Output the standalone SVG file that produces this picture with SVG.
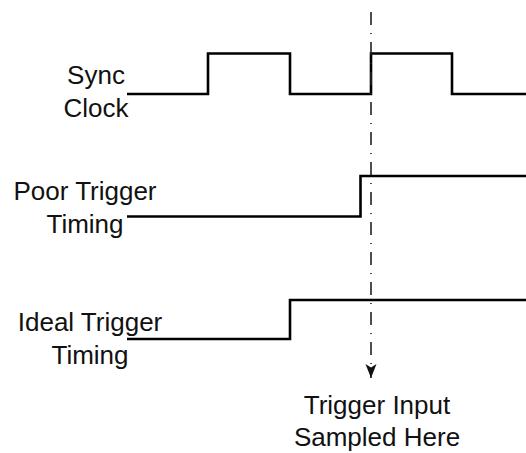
<svg xmlns="http://www.w3.org/2000/svg" width="526" height="453" viewBox="0 0 526 453">
<defs>
<style>
.sig{fill:none;stroke:#000;stroke-width:2.6;stroke-linejoin:miter;stroke-linecap:butt}
.lbl{font-family:"Liberation Sans",Arial,sans-serif;font-size:26px;fill:#111;text-anchor:middle}
.dd{fill:none;stroke:#222;stroke-width:1.6;stroke-dasharray:13 8 1 8}
</style>
<marker id="arr" viewBox="-1 -7 16 14" markerWidth="16" markerHeight="14" refX="14" refY="0" orient="auto" markerUnits="userSpaceOnUse">
<path d="M0,-5.5 L14,0 L0,5.5 L3.5,0 Z" fill="#111"/>
</marker>
</defs>
<rect width="526" height="453" fill="#fff"/>
<g id="sync-clock">
<text class="lbl" x="96" y="84">Sync</text>
<text class="lbl" x="96" y="117">Clock</text>
<path class="sig" d="M127,94 H208 V53.5 H290 V94 H371 V53.5 H452 V94 H526"/>
</g>
<g id="poor-trigger">
<text class="lbl" x="85" y="200">Poor Trigger</text>
<text class="lbl" x="85" y="233">Timing</text>
<path class="sig" d="M127,216.5 H360.5 V176 H526"/>
</g>
<g id="ideal-trigger">
<text class="lbl" x="90" y="331">Ideal Trigger</text>
<text class="lbl" x="90" y="364">Timing</text>
<path class="sig" d="M127,339 H290 V300 H526"/>
</g>
<g id="sample-label">
<text class="lbl" x="377" y="414">Trigger Input</text>
<text class="lbl" x="377" y="446">Sampled Here</text>
</g>
<g id="connectors">
<line class="dd" x1="371" y1="12" x2="371" y2="378" marker-end="url(#arr)"/>
</g>
</svg>
